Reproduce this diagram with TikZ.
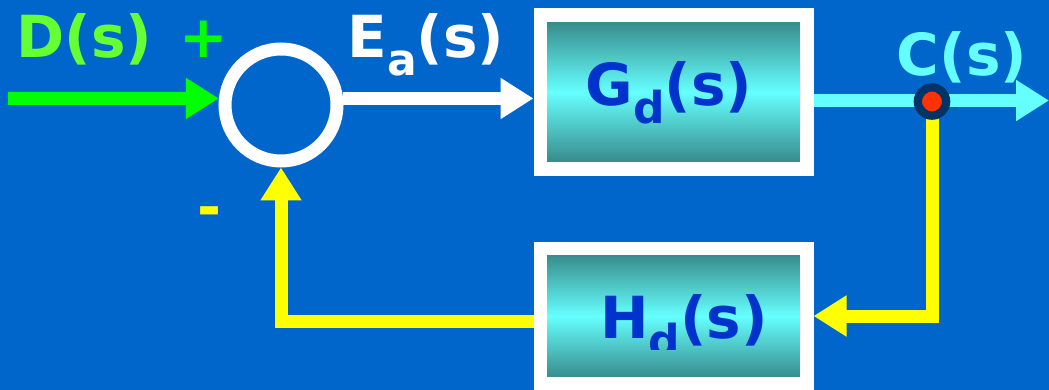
\documentclass[tikz,border=0pt]{standalone}
\usepackage{fontspec}
\setmainfont{DejaVu Sans}
\usepackage{tikz}
\usetikzlibrary{
    arrows.meta,
    positioning,
    calc
}
\definecolor{slideblue}{RGB}{0,102,204}
\definecolor{sigcyan}{RGB}{102,255,255}
\definecolor{boxteal}{RGB}{51,128,128}
\definecolor{tftext}{RGB}{0,51,204}
\definecolor{inlabel}{RGB}{102,255,51}
\definecolor{siggreen}{RGB}{0,255,0}
\definecolor{sigyellow}{RGB}{255,255,0}
\definecolor{tapnavy}{RGB}{0,51,102}
\definecolor{tapred}{RGB}{255,51,0}
\newcommand{\lowsub}[1]{\raisebox{-18pt}{\fontsize{44}{44}\selectfont #1}}
\tikzset{
    tfblock/.style={
        draw=white,
        rectangle,
        line width=13.5pt,
        minimum width=266.5pt,
        minimum height=154pt,
        inner sep=0pt,
        top color=boxteal,
        bottom color=boxteal,
        middle color=sigcyan
    },
    sumnode/.style={
        draw=white,
        circle,
        line width=13pt,
        minimum size=112pt,
        inner sep=0pt
    },
    tapdot/.style={
        draw=tapnavy,
        fill=tapred,
        circle,
        line width=8.3pt,
        minimum size=28.3pt,
        inner sep=0pt
    },
    lab/.style={
        font=\bfseries\fontsize{58}{60}\selectfont,
        anchor=base,
        inner sep=0pt
    },
    sig/.style={
        -{Triangle[length=33pt,width=39pt]},
        line width=13pt
    }
}

\begin{document}
\begin{tikzpicture}[x=1pt,y=-1pt]
\useasboundingbox (0,0) rectangle (1049,390);
\fill[slideblue] (0,0) rectangle (1049,390);
% blocks
\node[sumnode] (sum) at (281,105) {};
\node[tfblock] (gbox) at (673.5,92) {};
\node[tfblock, minimum height=135pt] (hbox) at (673.5,316) {};
\node[lab, text=tftext] (gtext) at (669,106) {G\lowsub{d}(s)};
\begin{scope}
\clip (547,254) rectangle (800,349);
\node[lab, text=tftext] (htext) at (684,338) {H\lowsub{d}(s)};
\end{scope}
% signals
\coordinate (din) at (8,98.5);
\coordinate (cout) at (1049,100.5);
\coordinate (tapc) at (932,101.5);
\draw[sig, siggreen] (din) -- (sum.174);
\draw[sig, white] (sum.6) -- (sum.6 -| gbox.west);
\draw[sig, sigcyan] (gbox.east |- cout) -- (cout);
\draw[sig, sigyellow] (tapc) |- (hbox.east);
\draw[sig, sigyellow] ([yshift=-5.5pt]hbox.west) -| (sum.south);
\node[tapdot] (tap) at (tapc) {};
% labels
\node[lab, text=inlabel] (dlab) at (84.5,58) {D(s)};
\node[lab, text=siggreen] (plus) at (204,58) {+};
\node[lab, text=white] (ealab) at (426,58) {E\lowsub{a}(s)};
\node[lab, text=sigcyan] (clab) at (962,76) {C(s)};
\node[lab, text=sigyellow] (minus) at (209.5,227) {-};
\end{tikzpicture}
\end{document}
